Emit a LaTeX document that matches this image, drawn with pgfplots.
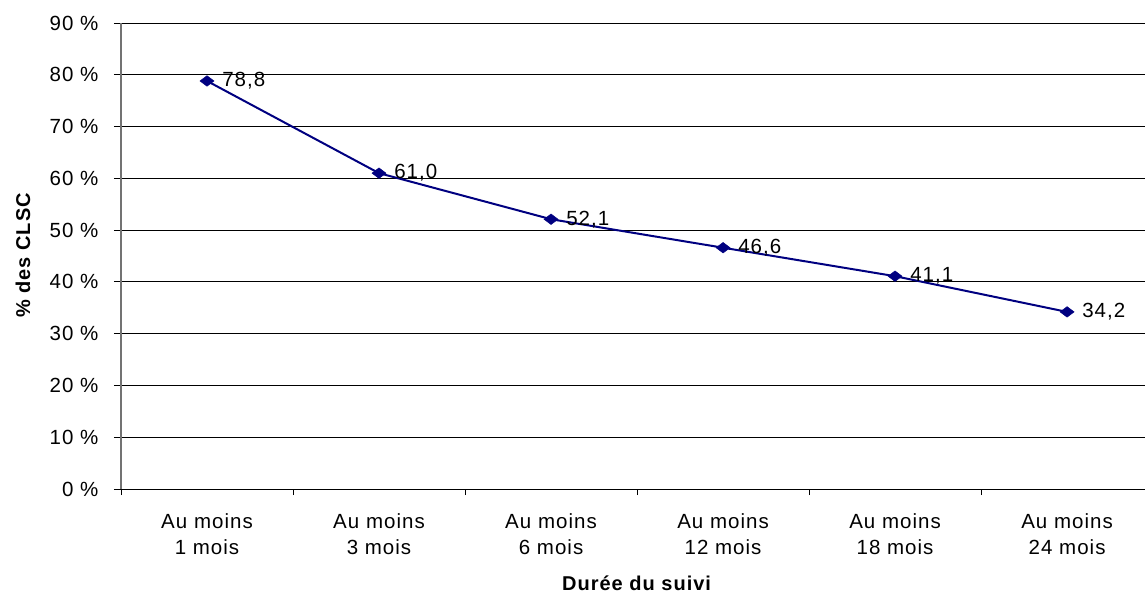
\documentclass[border=0pt]{standalone}
\usepackage{pgfplots}
\pgfplotsset{compat=1.18}
\usepackage{fontspec}
\setmainfont{Liberation Sans}[LetterSpace=5]
\definecolor{navyline}{RGB}{0,0,128}
\begin{document}
\begin{tikzpicture}
\begin{axis}[
  name=ax,
  scale only axis,
  width=1024pt, height=466pt,
  xmin=-0.5, xmax=5.453,
  ymin=0, ymax=90,
  enlargelimits=false,
  axis x line*=bottom, axis y line*=left,
  axis line style={-},
  x axis line style={black, line width=0.9pt},
  y axis line style={gray!90!black, line width=1.1pt},
  ytick={0,10,...,90},
  ymajorgrids,
  major grid style={black, line width=0.8pt},
  yticklabel={\pgfmathprintnumber{\tick}~\%},
  /pgf/number format/assume math mode=true,
  xtick={0,1,2,3,4,5},
  xticklabels={{Au moins\\1 mois},{Au moins\\3 mois},{Au moins\\6 mois},{Au moins\\12 mois},{Au moins\\18 mois},{Au moins\\24 mois}},
  minor xtick={-0.5,0.5,1.5,2.5,3.5,4.5},
  tick align=outside,
  major x tick style={draw=none},
  minor x tick style={black, line width=0.9pt},
  y tick style={black, line width=0.9pt},
  major tick length=7pt,
  minor tick length=6pt,
  tick label style={font=\fontsize{20.5}{26}\selectfont},
  xticklabel style={align=center, yshift=-14pt},
  yticklabel style={xshift=-12pt},
  xlabel={\textbf{Durée du suivi}},
  ylabel={\textbf{\% des CLSC}},
  label style={font=\fontsize{20}{24}\selectfont},
  xlabel style={at={(axis description cs:0.504,-0.2017)}, anchor=center},
  ylabel style={at={(axis description cs:-0.0957,0.502)}, anchor=center},
  nodes near coords,
  point meta=explicit symbolic,
  every node near coord/.append style={font=\fontsize{20.5}{24}\selectfont, anchor=west, inner sep=0pt, xshift=15pt, text=black},
]
\addplot[navyline, line width=2pt, mark=diamond*, mark size=7pt, mark options={rotate=90, fill=navyline, draw=navyline, line width=0.5pt}]
  coordinates {
    (0,78.8) [78,8]
    (1,61.0) [61,0]
    (2,52.1) [52,1]
    (3,46.6) [46,6]
    (4,41.1) [41,1]
    (5,34.2) [34,2]
  };
\end{axis}
\pgfresetboundingbox
\useasboundingbox ([xshift=-121pt,yshift=-104pt]ax.south west) rectangle ([yshift=23pt]ax.north east);
\end{tikzpicture}
\end{document}
